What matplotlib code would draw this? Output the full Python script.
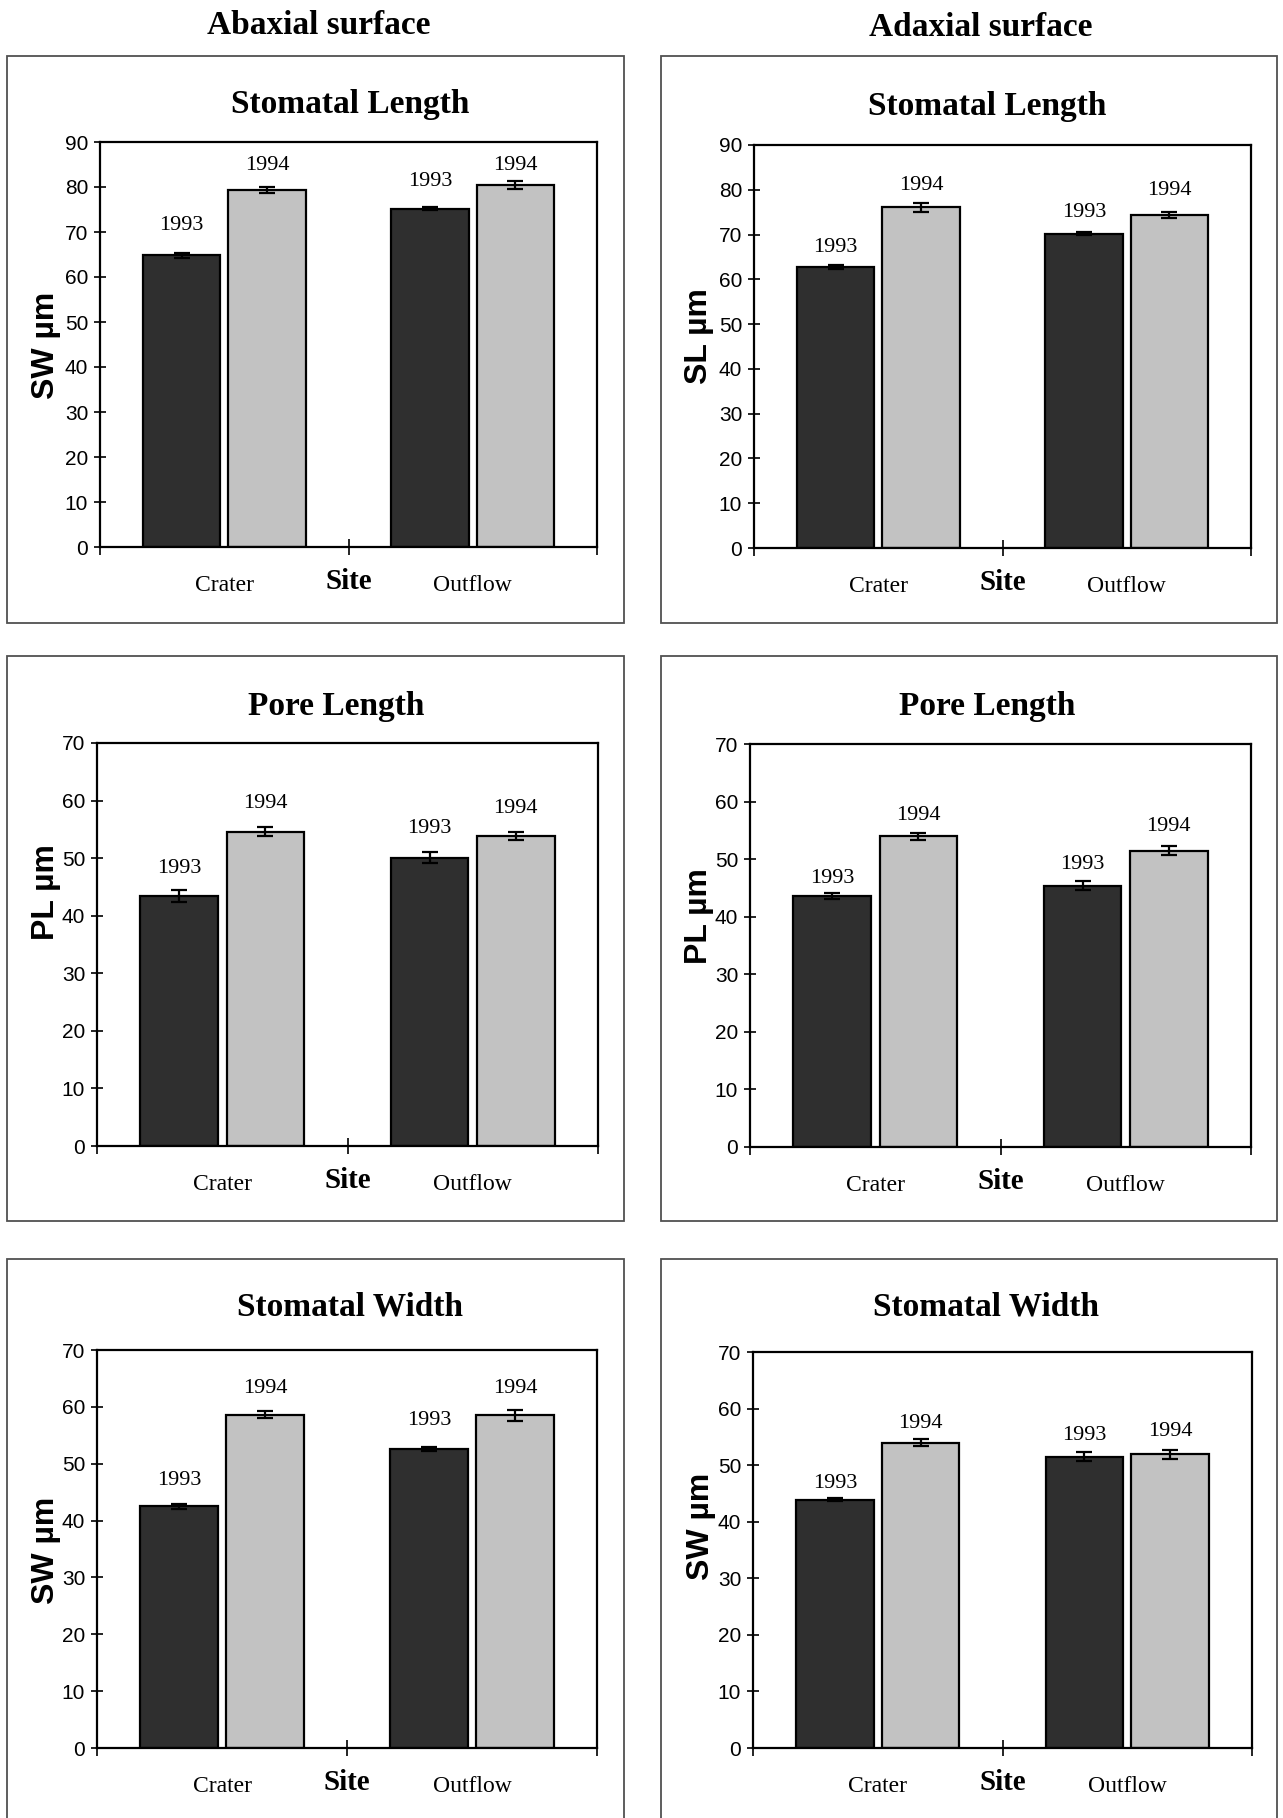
import matplotlib
matplotlib.use("Agg")
import matplotlib.pyplot as plt
from matplotlib.patches import Rectangle

# ---------------- data ----------------
categories = ["Crater", "Outflow"]
years = ["1993", "1994"]

abax_sl_1993 = [64.8, 75.2]
abax_sl_1994 = [79.4, 80.4]
abax_sl_err_1993 = [0.6, 0.3]
abax_sl_err_1994 = [0.7, 0.9]

adax_sl_1993 = [62.8, 70.2]
adax_sl_1994 = [76.1, 74.3]
adax_sl_err_1993 = [0.4, 0.4]
adax_sl_err_1994 = [1.0, 0.7]

abax_pl_1993 = [43.4, 50.1]
abax_pl_1994 = [54.6, 53.8]
abax_pl_err_1993 = [1.0, 0.9]
abax_pl_err_1994 = [0.8, 0.7]

adax_pl_1993 = [43.6, 45.4]
adax_pl_1994 = [54.0, 51.5]
adax_pl_err_1993 = [0.6, 0.8]
adax_pl_err_1994 = [0.6, 0.8]

abax_sw_1993 = [42.5, 52.6]
abax_sw_1994 = [58.6, 58.5]
abax_sw_err_1993 = [0.4, 0.3]
abax_sw_err_1994 = [0.6, 1.0]

adax_sw_1993 = [43.9, 51.5]
adax_sw_1994 = [54.0, 51.9]
adax_sw_err_1993 = [0.3, 0.8]
adax_sw_err_1994 = [0.6, 0.8]

surface_titles = ["Abaxial surface", "Adaxial surface"]
panel_titles = ["Stomatal Length", "Pore Length", "Stomatal Width"]
ylabels_left = ["SW µm", "PL µm", "SW µm"]
ylabels_right = ["SL µm", "PL µm", "SW µm"]
xlabel = "Site"
ymax_rows = [90, 70, 70]

# ---------------- label placement (data units, style only) ----------------
lab_abax_sl = [[71.4, 81.2], [84.8, 84.8]]
lab_adax_sl = [[67.2, 74.9], [80.9, 79.9]]
lab_abax_pl = [[48.2, 55.1], [59.5, 58.7]]
lab_adax_pl = [[46.7, 49.1], [57.5, 55.7]]
lab_abax_sw = [[47.1, 57.6], [63.3, 63.3]]
lab_adax_sw = [[46.8, 55.2], [57.4, 56.0]]

W, H = 1283, 1818
fig = plt.figure(figsize=(W / 100, H / 100), dpi=100)
fig.patch.set_facecolor("white")

SERIF = ["Liberation Serif", "DejaVu Serif"]
SANS = ["Liberation Sans", "DejaVu Sans"]

def fx(px):
    return px / W

def fy(py):
    return 1 - py / H

# panel boxes
box_cols = [(7, 624), (661, 1277)]
box_rows = [(56, 623), (656, 1221), (1259, 1860)]
for (x0, x1) in box_cols:
    for (y0, y1) in box_rows:
        fig.add_artist(Rectangle((fx(x0), fy(y1)), fx(x1) - fx(x0), fy(y0) - fy(y1),
                                 transform=fig.transFigure, fill=False,
                                 edgecolor="#505050", linewidth=1.3))

# column titles
fig.text(fx(319), fy(26), surface_titles[0], ha="center", va="center",
         fontsize=24, fontweight="bold", family=SERIF)
fig.text(fx(981), fy(28), surface_titles[1], ha="center", va="center",
         fontsize=24, fontweight="bold", family=SERIF)

# axes rectangles in pixels: (left, right, top, bottom)
axes_px = [
    [(100, 597, 142, 547), (754, 1251, 145, 548)],
    [(97, 598, 743, 1146), (750, 1251, 744, 1147)],
    [(97, 597, 1350, 1748), (753, 1252, 1352, 1748)],
]
ylabel_px = [
    [(46, 345), (699, 336)],
    [(46, 892), (699, 916)],
    [(46, 1550), (701, 1526)],
]
title_px = [
    [(350, 105), (987, 107)],
    [(336, 706), (987, 706)],
    [(350, 1307), (986, 1307)],
]

panels = [
    [(abax_sl_1993, abax_sl_1994, abax_sl_err_1993, abax_sl_err_1994, lab_abax_sl),
     (adax_sl_1993, adax_sl_1994, adax_sl_err_1993, adax_sl_err_1994, lab_adax_sl)],
    [(abax_pl_1993, abax_pl_1994, abax_pl_err_1993, abax_pl_err_1994, lab_abax_pl),
     (adax_pl_1993, adax_pl_1994, adax_pl_err_1993, adax_pl_err_1994, lab_adax_pl)],
    [(abax_sw_1993, abax_sw_1994, abax_sw_err_1993, abax_sw_err_1994, lab_abax_sw),
     (adax_sw_1993, adax_sw_1994, adax_sw_err_1993, adax_sw_err_1994, lab_adax_sw)],
]

DARK = "#2f2f2f"
LIGHT = "#c2c2c2"
bar_w = 0.31
off = 0.172
xc = [0.5, 1.5]

for r in range(3):
    for c in range(2):
        l, rr, t, b = axes_px[r][c]
        ax = fig.add_axes([fx(l), fy(b), fx(rr) - fx(l), fy(t) - fy(b)])
        v93, v94, e93, e94, labs = panels[r][c]
        x93 = [x - off for x in xc]
        x94 = [x + off for x in xc]
        ax.bar(x93, v93, width=bar_w, color=DARK, edgecolor="black", linewidth=1.6, zorder=2)
        ax.bar(x94, v94, width=bar_w, color=LIGHT, edgecolor="black", linewidth=1.6, zorder=2)
        ax.errorbar(x93, v93, yerr=e93, fmt="none", ecolor="black", elinewidth=1.6,
                    capsize=6, capthick=1.6, zorder=3)
        ax.errorbar(x94, v94, yerr=e94, fmt="none", ecolor="black", elinewidth=1.6,
                    capsize=6, capthick=1.6, zorder=3)
        for i in range(2):
            ax.text(x93[i], labs[0][i], years[0], ha="center", va="center",
                    fontsize=16, family=SERIF)
            ax.text(x94[i], labs[1][i], years[1], ha="center", va="center",
                    fontsize=16, family=SERIF)
        ymax = ymax_rows[r]
        ax.set_xlim(0, 2)
        ax.set_ylim(0, ymax)
        ax.set_yticks(range(0, ymax + 1, 10))
        ax.set_xticks([0, 1, 2], labels=["", "", ""])
        ax.set_xticks(xc, labels=categories, minor=True)
        ax.tick_params(axis="x", which="major", direction="inout", length=12, width=1.2)
        ax.tick_params(axis="x", which="minor", length=0, pad=20, labelsize=17)
        ax.tick_params(axis="y", direction="inout", length=9, width=1.2, labelsize=15, pad=4)
        for lab in ax.get_xticklabels(minor=True):
            lab.set_family(SERIF)
        for lab in ax.get_yticklabels():
            lab.set_family(SANS)
        for sp in ax.spines.values():
            sp.set_linewidth(1.6)
            sp.set_color("black")
        ax.annotate(xlabel, xy=(1.0, 0), xycoords=("data", "axes fraction"),
                    xytext=(0, -25), textcoords="offset points", ha="center", va="center",
                    fontsize=21, fontweight="bold", family=SERIF)
        tx, ty = title_px[r][c]
        fig.text(fx(tx), fy(ty), panel_titles[r], ha="center", va="center",
                 fontsize=24, fontweight="bold", family=SERIF)
        yx, yy = ylabel_px[r][c]
        ytxt = ylabels_left[r] if c == 0 else ylabels_right[r]
        fig.text(fx(yx), fy(yy), ytxt, ha="center", va="center", rotation=90,
                 fontsize=23, fontweight="bold", family=SANS)

fig.savefig("out.png", dpi=100, facecolor="white")
